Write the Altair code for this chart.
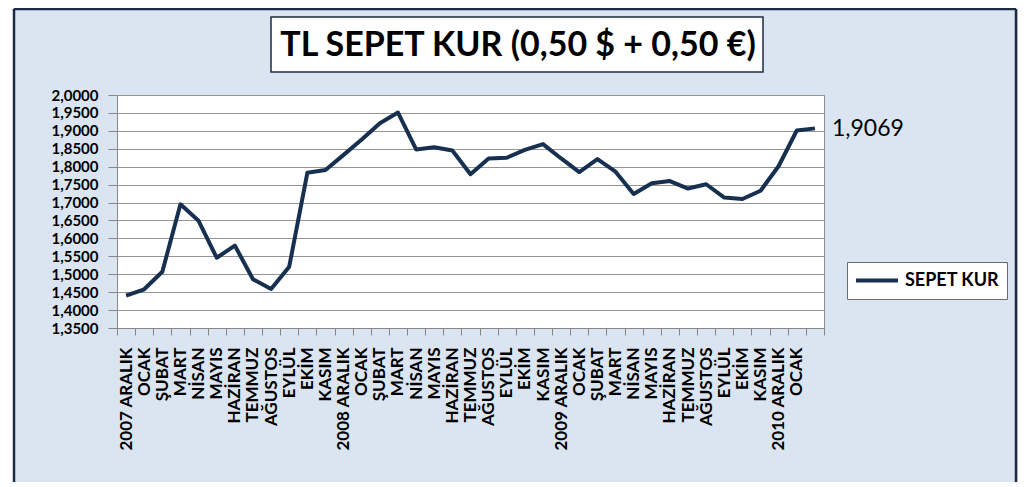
import json
import altair as alt
import pandas as pd

months = ["2007 ARALIK", "OCAK", "ŞUBAT", "MART", "NİSAN", "MAYIS", "HAZİRAN", "TEMMUZ", "AĞUSTOS", "EYLÜL", "EKİM", "KASIM",
          "2008 ARALIK", "OCAK", "ŞUBAT", "MART", "NİSAN", "MAYIS", "HAZİRAN", "TEMMUZ", "AĞUSTOS", "EYLÜL", "EKİM", "KASIM",
          "2009 ARALIK", "OCAK", "ŞUBAT", "MART", "NİSAN", "MAYIS", "HAZİRAN", "TEMMUZ", "AĞUSTOS", "EYLÜL", "EKİM", "KASIM",
          "2010 ARALIK", "OCAK", ""]
values = [1.440, 1.458, 1.507, 1.695, 1.649, 1.546, 1.580, 1.486, 1.459, 1.521, 1.783, 1.791,
          1.833, 1.876, 1.921, 1.951, 1.848, 1.854, 1.845, 1.779, 1.823, 1.825, 1.847, 1.863,
          1.823, 1.785, 1.821, 1.786, 1.724, 1.754, 1.760, 1.739, 1.751, 1.714, 1.710, 1.733,
          1.802, 1.901, 1.9069]
series_name = "SEPET KUR"
y_ticks = [1.35, 1.40, 1.45, 1.50, 1.55, 1.60, 1.65, 1.70, 1.75, 1.80, 1.85, 1.90, 1.95, 2.00]
title_text = "TL SEPET KUR (0,50 $ + 0,50 €)"

NAVY = "#17304F"
FRAME = "#1C2B44"
GRID = "#949494"
FONT = "Lato"

df = pd.DataFrame({"i": list(range(len(values))), "v": values, "s": [series_name] * len(values)})
one = pd.DataFrame({"a": [0]})

label_js = json.dumps(months, ensure_ascii=False)

xenc = alt.X(
    "i:O",
    bandPosition=0.5,
    scale=alt.Scale(type="band", paddingInner=0, paddingOuter=0),
    axis=alt.Axis(
        title=None, labelExpr=f"{label_js}[datum.value]", labelAngle=-90,
        tickBand="extent", tickSize=7, labelPadding=12, grid=False, labelOverlap=False,
        labelFontSize=17, domainColor="#888888", tickColor="#888888",
    ),
)
yenc = alt.Y(
    "v:Q",
    scale=alt.Scale(domain=[1.35, 2.0], nice=False, zero=False),
    axis=alt.Axis(
        title=None, values=y_ticks, tickCount=len(y_ticks),
        labelExpr="replace(format(datum.value, '.4f'), '.', ',')",
        tickSize=9, labelPadding=10, grid=True, gridColor=GRID, gridWidth=1,
        labelOverlap=False, labelBound=False, labelFlush=False, labelFontSize=15,
        domainColor="#888888", tickColor="#888888",
    ),
)

line = alt.Chart(df).mark_line(strokeWidth=4, strokeJoin="round").encode(
    x=xenc, y=yenc,
    color=alt.Color("s:N", scale=alt.Scale(domain=[series_name], range=[NAVY]),
                    legend=alt.Legend(title=None, orient="none", legendX=730, legendY=167,
                                      fillColor="white", strokeColor="#6b6b6b", padding=7,
                                      symbolType="stroke", symbolSize=1764, symbolStrokeWidth=4,
                                      clipHeight=23, labelOffset=5,
                                      labelFont=FONT, labelFontWeight="bold", labelFontSize=18,
                                      labelColor="black")),
)

end_label = alt.Chart(df).transform_filter(f"datum.i == {len(values) - 1}").transform_calculate(
    t="replace(format(datum.v, '.4f'), '.', ',')"
).mark_text(align="left", baseline="middle", dx=17, dy=1, fontSize=23, font=FONT, color="black").encode(
    x=alt.X("i:O", bandPosition=0.5), y="v:Q", text="t:N"
)

# decorative frame of the chart area
frame_left = alt.Chart(one).mark_rule(color=FRAME, strokeWidth=2.5).encode(
    x=alt.value(-103), y=alt.value(-86), y2=alt.value(400))
frame_right = alt.Chart(one).mark_rule(color=FRAME, strokeWidth=2.5).encode(
    x=alt.value(899), y=alt.value(-86), y2=alt.value(400))
frame_top = alt.Chart(one).mark_rule(color=FRAME, strokeWidth=2.5).encode(
    x=alt.value(-103), x2=alt.value(899), y=alt.value(-86))
white_strip = alt.Chart(one).mark_rect(color="white").encode(
    x=alt.value(-110), x2=alt.value(-104), y=alt.value(-90), y2=alt.value(400))

title_box = alt.Chart(one).mark_rect(fill="white", stroke=FRAME, strokeWidth=1.5).encode(
    x=alt.value(154), x2=alt.value(646), y=alt.value(-78), y2=alt.value(-23))
title = alt.Chart(one).mark_text(text=title_text, font=FONT, fontSize=34, fontWeight="bold",
                                 color="black", align="center", baseline="middle").encode(
    x=alt.value(401), y=alt.value(-49))

chart = alt.layer(white_strip, frame_left, frame_right, frame_top, title_box, title, line, end_label).properties(
    width=707, height=233,
    autosize=alt.AutoSizeParams(type="none"),
    padding={"left": 109, "top": 87, "right": 194, "bottom": 154},
    background="#DBE5F1",
).configure_view(fill="white", stroke="#8c8c8c", strokeWidth=1).configure_axis(
    labelFont=FONT, labelFontWeight="bold", labelColor="black",
)

chart.save("out.html", embed_options={"renderer": "svg", "actions": False})
